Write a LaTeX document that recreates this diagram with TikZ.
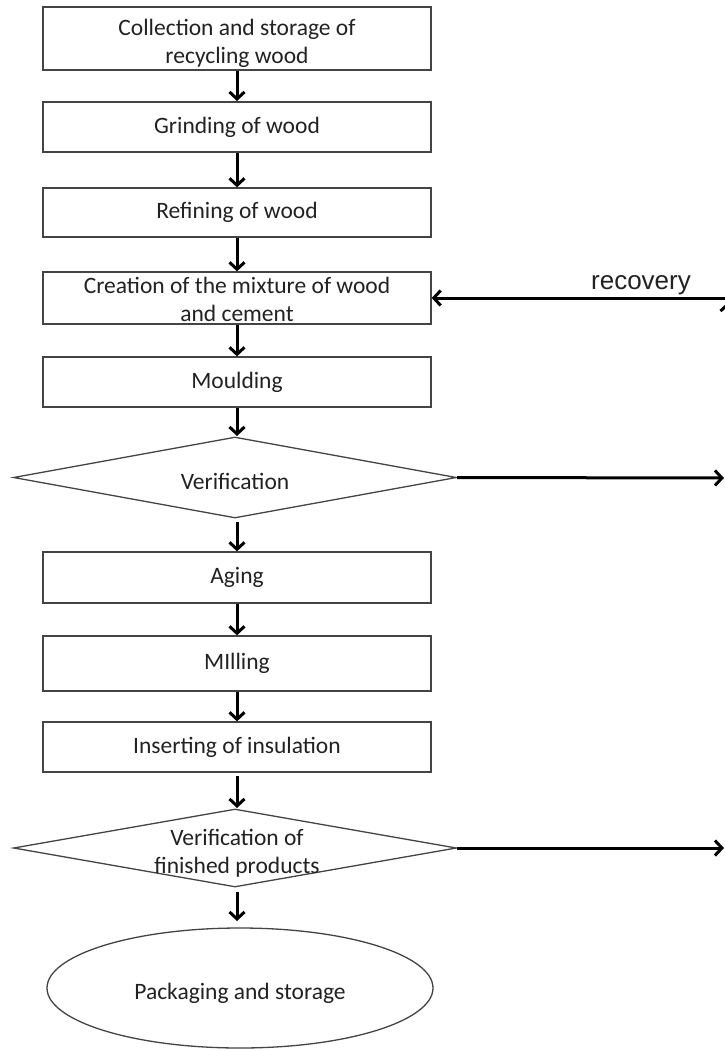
\documentclass[tikz,border=0pt]{standalone}
\usepackage{fontspec}
\setmainfont{Carlito}
\newfontfamily\arialf{Liberation Sans}
\usetikzlibrary{shapes.geometric,arrows.meta}
\definecolor{txt}{HTML}{222222}
\definecolor{edge}{HTML}{444444}
\tikzset{
  stepbox/.style={draw=edge, line width=1.3pt, rectangle, minimum width=388pt, inner sep=0pt, text=txt, font=\fontsize{23.5}{28}\selectfont, align=center},
  decbox/.style={draw=edge, line width=1.3pt, diamond, inner sep=0pt, minimum width=443pt},
  lbl/.style={text=txt, font=\fontsize{23.5}{28}\selectfont, align=center, inner sep=0pt},
  endbox/.style={draw=edge, line width=1.3pt, ellipse, inner sep=0pt, minimum width=386pt, minimum height=120pt},
  arr/.style={draw=black, line width=3pt, -{Straight Barb[length=7pt,width=15pt,line width=3pt]}}
}
\begin{document}
\begin{tikzpicture}[x=1pt,y=-1pt]
\useasboundingbox (0,0) rectangle (725,1050);
\fill[white] (0,0) rectangle (725,1050);
\node[stepbox, minimum height=63pt] (b1) at (237,38.5) {};
\node[lbl] (t1) at (237,43) {Collection and storage of\\recycling wood};
\node[stepbox, minimum height=50pt] (b2) at (237,127) {Grinding of wood};
\node[stepbox, minimum height=49pt] (b3) at (237,212.5) {Refining of wood};
\node[stepbox, minimum height=52pt] (b4) at (237,298) {};
\node[lbl] (t4) at (237,299) {Creation of the mixture of wood\\and cement};
\node[stepbox, minimum height=50pt] (b5) at (237,382) {Moulding};
\node[decbox, minimum height=81pt] (d1) at (235,477.5) {};
\node[lbl] (t6) at (235,481) {Verification};
\node[stepbox, minimum height=51pt] (b7) at (237,577.5) {Aging};
\node[stepbox, minimum height=55pt] (b8) at (237,663.5) {MIlling};
\node[stepbox, minimum height=50pt] (b9) at (237,747) {Inserting of insulation};
\node[decbox, minimum height=78pt] (d2) at (235,848) {};
\node[lbl] (t10) at (237,853) {Verification of\\finished products};
\node[endbox] (e) at (240,988) {};
\node[lbl] (t11) at (240,993) {Packaging and storage};

\coordinate (rin) at (726,298);
\coordinate (o1) at (724,478);
\coordinate (o2) at (724,848);
\coordinate (up1) at (728,478);
\coordinate (up2) at (728,302);

\draw[arr] (b1.south) -- (237,101);
\draw[arr] (b2.south) -- (b3.north);
\draw[arr] (b3.south) -- (b4.north);
\draw[arr] (b4.south) -- (b5.north);
\draw[arr] (b5.south) -- (237,436);
\draw[arr] (237,522) -- (b7.north);
\draw[arr] (b7.south) -- (b8.north);
\draw[arr] (b8.south) -- (b9.north);
\draw[arr] (237,776) -- (237,808);
\draw[arr] (237,892) -- (237,921);
\draw[arr] (d1.east) -- (o1);
\draw[arr] (d2.east) -- (o2);
\draw[arr] (rin) -- (b4.east);
\draw[arr] (up1) -- (up2);
\node[font=\arialf\fontsize{26}{30}\selectfont, text=txt, anchor=base] (rec) at (641,289) {recovery};
\end{tikzpicture}
\end{document}
